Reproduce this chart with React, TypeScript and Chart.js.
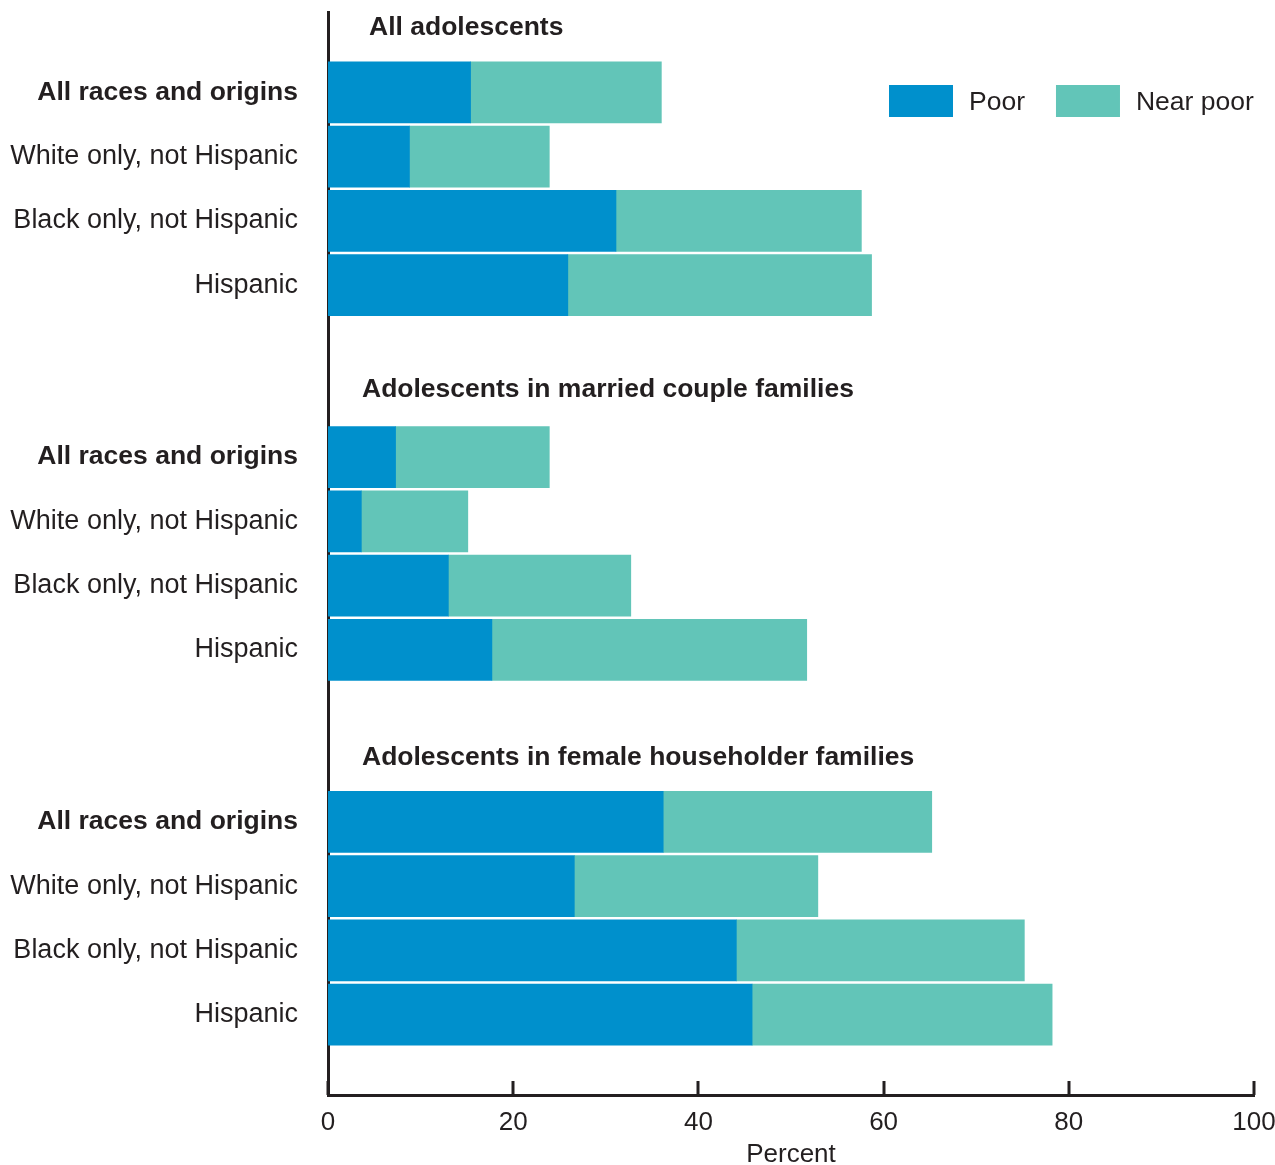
import React, { useEffect, useRef } from "react";
import { Chart, registerables } from "chart.js";

Chart.register(...registerables);

// ---------------- data ----------------
const groupTitles = [
  "All adolescents",
  "Adolescents in married couple families",
  "Adolescents in female householder families",
];
const categories = [
  "All races and origins",
  "White only, not Hispanic",
  "Black only, not Hispanic",
  "Hispanic",
];
// order: group 1 (4 rows), group 2 (4 rows), group 3 (4 rows)
const poorValues = [15.4, 8.8, 31.1, 25.9, 7.3, 3.6, 13.0, 17.7, 36.2, 26.6, 44.1, 45.8];
const nearPoorValues = [20.6, 15.1, 26.5, 32.8, 16.6, 11.5, 19.7, 34.0, 29.0, 26.3, 31.1, 32.4];
const seriesNames = ["Poor", "Near poor"];
const xTickValues = [0, 20, 40, 60, 80, 100];
const xAxisTitle = "Percent";

// ---------------- layout / style ----------------
const FONT = "'Liberation Sans', Arial, Helvetica, sans-serif";
const TEXT = "#231f20";
const COLORS = ["#0090cc", "#62c5b8"];
const GROUP_STRIDE = 5.675;
const ROWS_PER_GROUP = categories.length;
const rowPos = (i: number) => Math.floor(i / ROWS_PER_GROUP) * GROUP_STRIDE + (i % ROWS_PER_GROUP) + 1;
const titlePos = (g: number) => g * GROUP_STRIDE;
const TITLE_X_OFFSETS = [41, 34, 34];
const TITLE_Y_SHIFT = [0, -3, 0];

export default function App() {
  const ref = useRef<HTMLCanvasElement | null>(null);

  useEffect(() => {
    document.body.style.margin = "0";
    const canvas = ref.current;
    if (!canvas) return;
    const rowsY = poorValues.map((_, i) => rowPos(i));
    const labelFor = (i: number) => categories[i % ROWS_PER_GROUP];

    const overlay = {
      id: "overlay",
      afterDraw(chart: any) {
        const ctx = chart.ctx as CanvasRenderingContext2D;
        const { chartArea } = chart;
        const xs = chart.scales.x;
        const ys = chart.scales.y;
        ctx.save();
        // inward tick marks on x axis
        ctx.strokeStyle = TEXT;
        ctx.lineWidth = 3;
        xTickValues.forEach((v) => {
          const px = Math.round(xs.getPixelForValue(v));
          ctx.beginPath();
          ctx.moveTo(px, chartArea.bottom);
          ctx.lineTo(px, chartArea.bottom - 14);
          ctx.stroke();
        });
        // group titles
        ctx.fillStyle = TEXT;
        ctx.font = `bold 26.5px ${FONT}`;
        ctx.textAlign = "left";
        ctx.textBaseline = "middle";
        groupTitles.forEach((t, g) => {
          ctx.fillText(t, chartArea.left + TITLE_X_OFFSETS[g], ys.getPixelForValue(titlePos(g)) + TITLE_Y_SHIFT[g]);
        });
        // legend
        ctx.font = `26.5px ${FONT}`;
        let x = chartArea.left + 561;
        const boxTop = chartArea.top + 73;
        chart.data.datasets.forEach((ds: any) => {
          ctx.fillStyle = ds.backgroundColor;
          ctx.fillRect(x, boxTop, 64, 32);
          ctx.fillStyle = TEXT;
          ctx.fillText(ds.label, x + 64 + 16, boxTop + 18);
          x += 64 + 16 + ctx.measureText(ds.label).width + 31;
        });
        ctx.restore();
      },
    };

    const chart = new Chart(canvas, {
      type: "bar",
      data: {
        datasets: [
          {
            label: seriesNames[0],
            data: poorValues.map((v, i) => ({ x: v, y: rowsY[i] })),
            backgroundColor: COLORS[0],
            stack: "total",
            barThickness: 61,
          },
          {
            label: seriesNames[1],
            data: nearPoorValues.map((v, i) => ({ x: v, y: rowsY[i] })),
            backgroundColor: COLORS[1],
            stack: "total",
            barThickness: 61,
          },
        ],
      },
      options: {
        indexAxis: "y",
        responsive: false,
        animation: false,
        devicePixelRatio: 1,
        layout: { padding: { top: 12, right: 21, left: 0, bottom: 0 } },
        plugins: {
          legend: { display: false },
          tooltip: { enabled: false },
        },
        scales: {
          x: {
            type: "linear",
            stacked: true,
            min: 0,
            max: 100,
            afterBuildTicks: (s: any) => {
              s.ticks = xTickValues.map((v) => ({ value: v }));
            },
            grid: { display: false, drawTicks: false },
            border: { display: true, color: TEXT, width: 3 },
            ticks: {
              color: TEXT,
              font: { family: FONT, size: 26 },
              padding: 12,
              maxRotation: 0,
              autoSkip: false,
            },
            title: {
              display: true,
              text: xAxisTitle,
              color: TEXT,
              font: { family: FONT, size: 26, lineHeight: 1 },
              padding: { top: 0, bottom: -3 },
            },
            afterFit: (s: any) => {
              s.height = 70;
              s.paddingLeft = 0;
              s.paddingRight = 21;
            },
          },
          y: {
            type: "linear",
            reverse: true,
            offset: false,
            min: -0.25,
            max: 16.6,
            afterBuildTicks: (s: any) => {
              s.ticks = rowsY.map((v) => ({ value: v }));
            },
            grid: { display: false, drawTicks: false },
            border: { display: true, color: TEXT, width: 3 },
            ticks: {
              autoSkip: false,
              color: TEXT,
              padding: 30,
              callback: (_v: any, i: number) => labelFor(i),
              font: (c: any) => {
                const bold = c.index % ROWS_PER_GROUP === 0;
                return { family: FONT, size: bold ? 26.5 : 27, weight: bold ? "bold" : "normal" };
              },
            },
            afterFit: (s: any) => {
              s.width = 328;
              s.paddingTop = 0;
              s.paddingBottom = 0;
            },
          },
        },
      },
      plugins: [overlay],
    } as any);

    return () => chart.destroy();
  }, []);

  return <canvas ref={ref} width={1275} height={1165} style={{ display: "block" }} />;
}
